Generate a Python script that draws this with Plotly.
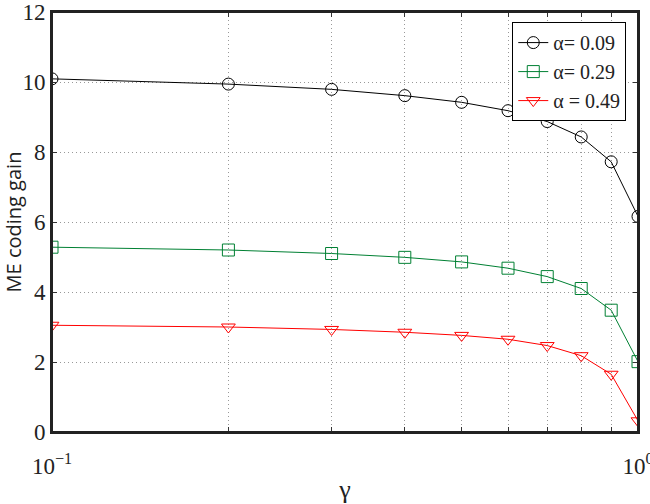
import plotly.graph_objects as go

gamma = [0.1, 0.2, 0.3, 0.4, 0.5, 0.6, 0.7, 0.8, 0.9, 1.0]
gain_009 = [10.09, 9.94, 9.79, 9.61, 9.42, 9.18, 8.87, 8.43, 7.72, 6.16]
gain_029 = [5.28, 5.2, 5.1, 4.99, 4.86, 4.68, 4.44, 4.1, 3.48, 2.01]
gain_049 = [3.05, 3.0, 2.93, 2.85, 2.76, 2.65, 2.47, 2.18, 1.65, 0.32]
names = ["α= 0.09", "α= 0.29", "α = 0.49"]
colors = ["#000000", "#008033", "#ff0000"]
symbols = ["circle-open", "square-open", "triangle-down-open"]

x_tickvals = [0.1, 0.2, 0.3, 0.4, 0.5, 0.6, 0.7, 0.8, 0.9, 1.0]
x_ticktext = ["10<sup>−1</sup>", "", "", "", "", "", "", "", "", "10<sup>0</sup>"]
y_tickvals = [0, 2, 4, 6, 8, 10, 12]

SERIF = "Liberation Serif"

fig = go.Figure()
for ys, nm, c, s in zip([gain_009, gain_029, gain_049], names, colors, symbols):
    fig.add_trace(go.Scatter(
        x=gamma, y=ys, name=nm, mode="lines+markers",
        line=dict(color=c, width=1),
        marker=dict(symbol=s, size=12, color=c, line=dict(width=1, color=c)),
    ))

fig.add_shape(type="rect", xref="paper", yref="paper", x0=0, x1=1, y0=0, y1=1,
              line=dict(color="#222", width=2), layer="above")

tfont = dict(family=SERIF, size=23, color="#222")
fig.update_layout(
    width=650, height=504,
    margin=dict(l=52, r=12, t=12, b=72),
    paper_bgcolor="white", plot_bgcolor="white",
    showlegend=True,
    legend=dict(x=0.98, y=0.976, xanchor="right", yanchor="top",
                bgcolor="white", bordercolor="black", borderwidth=1,
                font=dict(family=SERIF, size=20, color="#222"),
                tracegroupgap=0, itemwidth=30),
    xaxis=dict(type="log", range=[-1, 0], tickvals=x_tickvals, ticktext=x_ticktext,
               showgrid=True, gridcolor="#999999", griddash="1px,3px", gridwidth=1,
               ticks="inside", ticklen=5, tickcolor="#333", mirror="ticks",
               showline=True, linecolor="#222", linewidth=2, zeroline=False,
               tickfont=tfont, automargin=False, ticklabelstandoff=12,
               ticklabeloverflow="allow",
               title=dict(text="γ", font=dict(family=SERIF, size=26, color="#222"), standoff=6)),
    yaxis=dict(range=[0, 12], tickvals=y_tickvals,
               showgrid=True, gridcolor="#999999", griddash="1px,3px", gridwidth=1,
               ticks="inside", ticklen=5, tickcolor="#333", mirror="ticks",
               showline=True, linecolor="#222", linewidth=2, zeroline=False,
               tickfont=tfont, automargin=False, ticklabeloverflow="allow",
               title=dict(text="ME coding gain", font=dict(family="Open Sans", size=20, color="#222"), standoff=6)),
)
fig.write_html("out.html", config={"displayModeBar": False},
               post_script="document.body.style.margin='0';document.body.style.overflow='hidden';")
